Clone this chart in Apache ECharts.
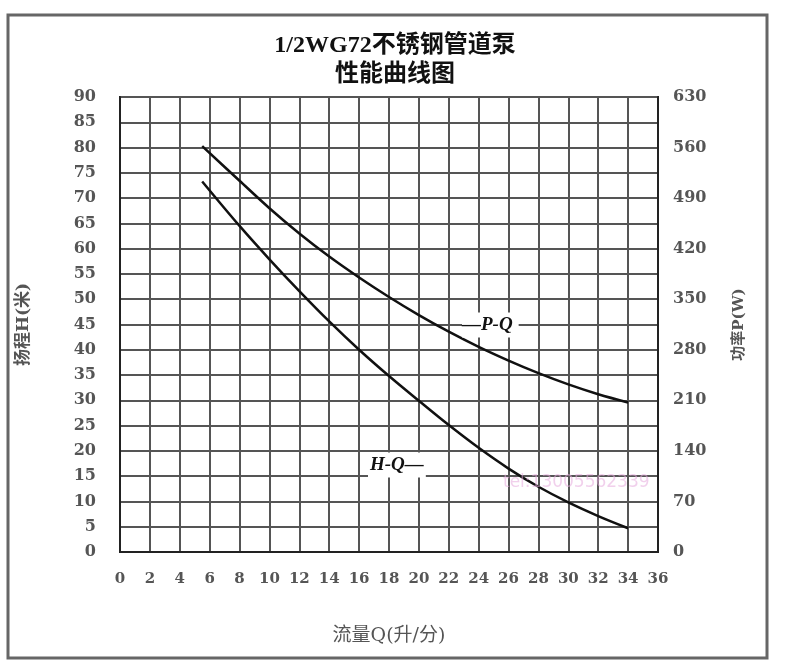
<!DOCTYPE html>
<html><head><meta charset="utf-8">
<script src="https://cdn.jsdelivr.net/npm/echarts@6/dist/echarts.min.js"></script>
<style>html,body{margin:0;padding:0;background:#fff}#c{width:790px;height:670px}</style>
</head><body><div id="c"></div>
<script>
// Flow Q (L/min)
const flowQ = [5.5, 8, 10, 12, 14, 16, 18, 20, 22, 24, 26, 28, 30, 32, 34];
// Head H (m)
const headH = [73.3, 64.5, 57.9, 51.6, 45.6, 40, 34.8, 29.9, 25.1, 20.6, 16.5, 12.9, 9.8, 7.1, 4.7];
// Power P (W)
const powerP = [562, 514, 476, 441, 409, 380, 353, 328, 305, 284, 265, 247.6, 232, 218.4, 207];

const titleLines = ['1/2WG72不锈钢管道泵', '性能曲线图'];
const labelPQ = '—P-Q';
const labelHQ = 'H-Q—';
const watermark = 'tel:13005562339';

const serif = '"DejaVu Serif", "Liberation Serif", "Noto Sans CJK SC", serif';
const gray = '#555';

const chart = echarts.init(document.getElementById('c'), null, {renderer: 'canvas'});
chart.setOption({
  backgroundColor: '#fff',
  animation: false,
  title: {
    text: titleLines.join('\n'),
    left: 'center', top: 26,
    textStyle: {fontFamily: '"Liberation Serif", "Noto Sans CJK SC", serif', fontWeight: 'bold', fontSize: 24, lineHeight: 29, color: '#111'}
  },
  grid: {left: 120, right: 132, top: 97, bottom: 118, show: true, borderColor: '#222', borderWidth: 2, containLabel: false},
  xAxis: {
    type: 'value', min: 0, max: 36, interval: 2,
    name: '流量Q(升/分)', nameLocation: 'middle', nameGap: 75,
    nameTextStyle: {fontFamily: serif, fontSize: 19, color: gray},
    axisLine: {show: true, lineStyle: {color: '#222', width: 2}},
    axisTick: {show: false},
    axisLabel: {margin: 20, fontFamily: serif, fontSize: 15, color: gray, fontWeight: 'bold'},
    splitLine: {show: true, lineStyle: {color: '#555', width: 2}}
  },
  yAxis: [{
    type: 'value', min: 0, max: 90, interval: 5,
    name: '扬程H(米)', nameLocation: 'middle', nameGap: 88,
    nameTextStyle: {fontFamily: serif, fontSize: 17, color: gray, fontWeight: 'bold'},
    axisLine: {show: true, lineStyle: {color: '#222', width: 2}},
    axisTick: {show: false},
    axisLabel: {margin: 24, fontFamily: serif, fontSize: 16, color: gray, fontWeight: 'bold'},
    splitLine: {show: true, lineStyle: {color: '#555', width: 2}}
  }, {
    type: 'value', min: 0, max: 630, interval: 70, position: 'right',
    name: '功率P(W)', nameLocation: 'middle', nameGap: 74,
    nameTextStyle: {fontFamily: serif, fontSize: 15, color: gray, fontWeight: 'bold'},
    axisLine: {show: true, lineStyle: {color: '#222', width: 2}},
    axisTick: {show: false},
    axisLabel: {margin: 15, fontFamily: serif, fontSize: 16, color: gray, fontWeight: 'bold'},
    splitLine: {show: false}
  }],
  series: [{
    name: 'H-Q', type: 'line', smooth: 0.35, showSymbol: false, yAxisIndex: 0,
    lineStyle: {color: '#111', width: 2.5},
    data: flowQ.map((q, i) => [q, headH[i]]), z: 5
  }, {
    name: 'P-Q', type: 'line', smooth: 0.35, showSymbol: false, yAxisIndex: 1,
    lineStyle: {color: '#111', width: 2.5},
    data: flowQ.map((q, i) => [q, powerP[i]]), z: 5
  }],
  graphic: [
    {type: 'rect', shape: {x: 8, y: 15, width: 759, height: 643}, style: {fill: 'none', stroke: '#666', lineWidth: 3}, silent: true},
    {type: 'text', x: 462, y: 325, z: 10, style: {text: labelPQ, fontFamily: '"Liberation Serif", serif', fontStyle: 'italic', fontWeight: 'bold', fontSize: 19, fill: '#111', verticalAlign: 'middle', backgroundColor: '#fff', padding: [3, 6, 3, 0]}},
    {type: 'text', x: 368, y: 465, z: 10, style: {text: labelHQ, fontFamily: '"Liberation Serif", serif', fontStyle: 'italic', fontWeight: 'bold', fontSize: 19, fill: '#111', verticalAlign: 'middle', backgroundColor: '#fff', padding: [3, 2, 3, 2]}},
    {type: 'text', x: 503, y: 483, z: 11, style: {text: watermark, fontFamily: '"DejaVu Sans", sans-serif', fontSize: 17, fill: 'rgba(230,170,220,0.55)', verticalAlign: 'middle'}}
  ]
});
</script></body></html>
